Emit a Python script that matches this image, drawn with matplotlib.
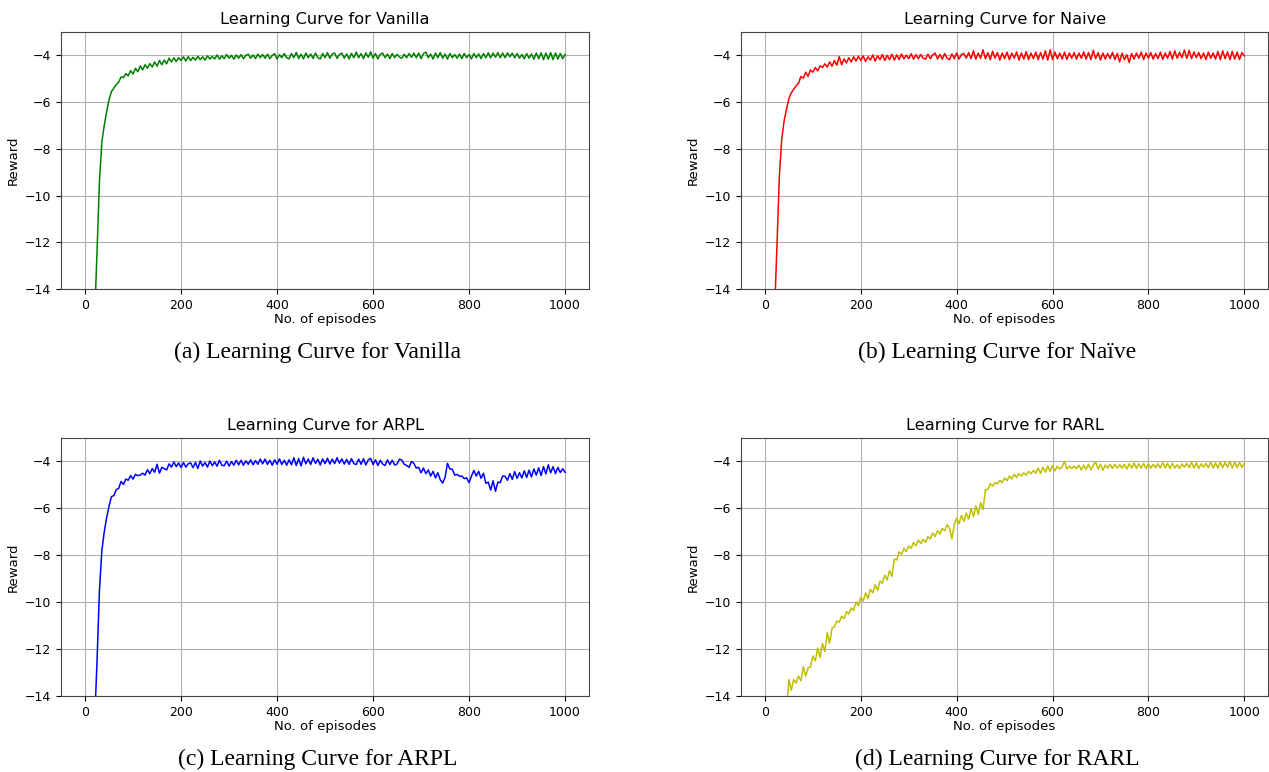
import numpy as np
import matplotlib
matplotlib.use("Agg")
import matplotlib.pyplot as plt

# episodes (sampled every 5 episodes)
episodes = np.arange(20, 1001, 5)
episodes_rarl = np.arange(45, 1001, 5)

vanilla = [
    -15.2, -12.4, -9.4, -7.7, -7.0, -6.4, -5.9, -5.55, -5.4, -5.25,
    -5.15, -4.92, -4.95, -4.78, -4.88, -4.65, -4.8, -4.55, -4.7, -4.45,
    -4.62, -4.4, -4.55, -4.35, -4.5, -4.28, -4.46, -4.22, -4.4, -4.2,
    -4.36, -4.12, -4.28, -4.1, -4.26, -4.1, -4.22, -4.06, -4.24, -4.05,
    -4.22, -4.08, -4.2, -4.04, -4.18, -4.06, -4.2, -4.02, -4.16, -4.05,
    -4.15, -3.98, -4.16, -4.02, -4.14, -3.96, -4.12, -4.0, -4.16, -3.98,
    -4.12, -3.97, -4.14, -4.0, -3.95, -4.12, -3.98, -4.14, -3.94, -4.1,
    -3.96, -4.12, -3.95, -4.14, -4.0, -3.93, -4.15, -3.97, -4.1, -3.92,
    -4.1, -4.15, -3.92, -4.1, -3.87, -4.13, -3.95, -4.15, -3.9, -4.1,
    -3.94, -4.13, -3.9, -4.1, -4.15, -3.92, -4.1, -3.88, -4.12, -3.94,
    -3.9, -4.13, -3.96, -3.9, -4.12, -3.94, -4.15, -3.91, -4.1, -3.86,
    -4.1, -3.92, -4.14, -3.89, -4.08, -3.85, -4.12, -3.92, -4.15, -3.95,
    -3.9, -4.1, -3.94, -4.14, -3.92, -4.1, -3.95, -4.08, -4.12, -3.95,
    -4.1, -3.92, -4.08, -3.9, -4.1, -3.9, -4.14, -3.92, -3.86, -4.1,
    -3.94, -4.16, -3.9, -4.1, -3.88, -4.12, -3.94, -4.16, -3.92, -4.1,
    -3.96, -4.12, -3.94, -4.14, -3.92, -4.1, -3.96, -4.15, -3.92, -4.1,
    -3.94, -4.14, -3.92, -4.1, -3.89, -4.11, -3.9, -4.08, -3.88, -4.1,
    -3.9, -4.1, -3.89, -4.06, -3.9, -4.1, -3.92, -4.12, -3.96, -4.14,
    -3.92, -4.12, -3.94, -4.16, -3.9, -4.14, -3.89, -4.18, -3.9, -4.16,
    -3.88, -4.18, -3.9, -4.16, -3.92, -4.14, -3.96,
]

naive = [
    -15.0, -12.2, -9.2, -7.6, -6.8, -6.3, -5.85, -5.6, -5.45, -5.3,
    -5.2, -4.9, -4.98, -4.72, -4.9, -4.62, -4.72, -4.52, -4.66, -4.45,
    -4.52, -4.36, -4.5, -4.28, -4.46, -4.22, -4.42, -4.05, -4.4, -4.15,
    -4.32, -4.1, -4.28, -4.06, -4.24, -4.04, -4.22, -4.02, -4.26, -4.06,
    -4.2, -3.98, -4.24, -4.02, -4.18, -3.96, -4.22, -4.0, -4.18, -3.95,
    -4.2, -3.98, -4.18, -3.94, -4.15, -3.99, -4.14, -3.93, -4.16, -3.97,
    -4.14, -3.96, -4.12, -4.16, -3.95, -4.14, -3.98, -3.9, -4.15, -3.96,
    -4.16, -3.92, -4.12, -4.18, -3.94, -4.14, -3.9, -4.16, -3.96, -3.92,
    -4.12, -3.88, -4.14, -3.8, -4.16, -3.9, -4.12, -3.76, -4.14, -3.88,
    -4.18, -3.82, -4.12, -3.88, -4.2, -3.9, -4.14, -3.86, -4.18, -3.9,
    -4.12, -3.85, -4.2, -3.9, -4.16, -3.84, -4.18, -3.9, -4.14, -3.86,
    -4.18, -3.88, -4.16, -3.8, -4.2, -3.76, -4.18, -3.86, -4.14, -3.9,
    -4.16, -3.86, -4.18, -3.9, -4.12, -3.88, -4.16, -3.9, -4.12, -3.85,
    -4.16, -3.88, -4.18, -3.78, -4.14, -3.88, -4.2, -3.9, -4.16, -3.92,
    -4.14, -3.87, -4.18, -3.92, -4.28, -3.9, -4.18, -3.97, -4.3, -3.92,
    -4.16, -3.9, -4.12, -3.86, -4.18, -3.9, -4.12, -3.88, -4.16, -3.92,
    -4.14, -3.86, -4.18, -3.9, -4.12, -3.83, -4.16, -3.8, -4.12, -3.87,
    -4.1, -3.77, -4.12, -3.78, -4.14, -3.85, -4.1, -3.88, -4.14, -3.9,
    -4.18, -3.86, -4.12, -3.9, -4.16, -3.83, -4.18, -3.8, -4.14, -3.85,
    -4.18, -3.83, -4.16, -3.86, -4.18, -3.88, -4.02,
]

arpl = [
    -15.1, -12.5, -9.5, -7.8, -7.0, -6.4, -5.9, -5.5, -5.45, -5.2,
    -5.15, -4.85, -4.98, -4.75, -4.8, -4.6, -4.75, -4.55, -4.6, -4.58,
    -4.5, -4.58, -4.35, -4.52, -4.3, -4.46, -4.12, -4.5, -4.25, -4.3,
    -4.36, -4.1, -4.24, -4.02, -4.22, -4.06, -4.26, -4.04, -4.24, -4.1,
    -4.06, -4.26, -4.04, -4.3, -3.98, -4.2, -4.04, -4.24, -3.98, -4.18,
    -4.02, -4.2, -3.95, -4.16, -4.18, -3.98, -4.2, -4.0, -4.16, -3.95,
    -4.14, -3.95, -4.16, -3.97, -4.12, -3.93, -4.14, -3.96, -4.12, -3.9,
    -4.1, -3.9, -4.12, -3.95, -4.16, -3.93, -4.12, -3.89, -4.13, -3.95,
    -4.16, -3.93, -4.14, -3.84, -4.17, -3.88, -4.19, -3.82, -4.1, -3.89,
    -4.13, -3.84, -4.08, -3.91, -4.15, -3.89, -4.09, -3.86, -4.11, -3.9,
    -4.09, -3.84, -4.07, -3.89, -4.11, -3.91, -4.12, -3.88, -4.09, -4.13,
    -3.9, -4.12, -3.88, -4.15, -3.93, -3.87, -4.13, -3.93, -4.17, -3.95,
    -4.11, -4.17, -3.93, -4.13, -3.95, -4.15, -4.11, -3.9, -3.94, -4.12,
    -4.17, -4.25, -4.0, -4.08, -4.28, -4.25, -4.48, -4.28, -4.52, -4.36,
    -4.62, -4.42, -4.7, -4.48, -4.78, -4.92, -4.68, -4.08, -4.32, -4.33,
    -4.58, -4.55, -4.63, -4.62, -4.73, -4.7, -4.9, -4.62, -4.38, -4.62,
    -4.42, -4.72, -4.5, -4.93, -4.88, -5.22, -4.82, -5.27, -4.88, -4.9,
    -4.62, -4.63, -4.8, -4.52, -4.76, -4.43, -4.72, -4.48, -4.7, -4.4,
    -4.68, -4.37, -4.66, -4.32, -4.58, -4.27, -4.6, -4.22, -4.53, -4.14,
    -4.48, -4.22, -4.52, -4.25, -4.47, -4.31, -4.46,
]

rarl = [
    -14.6, -13.3, -13.75, -13.3, -13.45, -13.15, -13.35, -12.75, -13.15, -12.8,
    -12.75, -12.3, -12.5, -11.95, -12.35, -11.75, -12.1, -11.3, -11.75, -11.1,
    -11.05, -10.8, -10.85, -10.6, -10.7, -10.4, -10.5, -10.25, -10.35, -10.0,
    -10.15, -9.8, -9.95, -9.6, -9.85, -9.45, -9.6, -9.25, -9.5, -9.1,
    -9.2, -8.85, -9.05, -8.65, -8.9, -8.15, -8.2, -7.85, -7.95, -7.7,
    -7.85, -7.6, -7.7, -7.45, -7.6, -7.35, -7.5, -7.32, -7.45, -7.2,
    -7.3, -7.05, -7.2, -6.95, -7.1, -6.85, -6.95, -6.7, -6.85, -7.3,
    -6.7, -6.42, -6.65, -6.3, -6.55, -6.2, -6.45, -6.0, -6.35, -5.9,
    -6.25, -5.75, -6.05, -5.2, -5.2, -4.95, -5.05, -4.9, -4.95, -4.8,
    -4.9, -4.7, -4.82, -4.62, -4.75, -4.55, -4.68, -4.52, -4.62, -4.48,
    -4.58, -4.42, -4.52, -4.38, -4.5, -4.28, -4.5, -4.25, -4.45, -4.2,
    -4.42, -4.18, -4.4, -4.2, -4.32, -4.22, -4.0, -4.32, -4.2, -4.3,
    -4.2, -4.3, -4.16, -4.36, -4.15, -4.34, -4.12, -4.35, -4.16, -4.02,
    -4.32, -4.12, -4.38, -4.15, -4.28, -4.12, -4.3, -4.12, -4.28, -4.14,
    -4.28, -4.12, -4.32, -4.1, -4.28, -4.06, -4.3, -4.1, -4.28, -4.08,
    -4.3, -4.1, -4.28, -4.12, -4.26, -4.1, -4.28, -4.04, -4.28, -4.08,
    -4.3, -4.08, -4.28, -4.14, -4.3, -4.1, -4.24, -4.08, -4.26, -4.02,
    -4.28, -4.06, -4.3, -4.1, -4.24, -4.08, -4.26, -4.02, -4.28, -4.06,
    -4.28, -4.02, -4.26, -4.04, -4.24, -4.0, -4.28, -4.02, -4.26, -4.04,
    -4.25, -4.08,
]

titles = ["Learning Curve for Vanilla", "Learning Curve for Naive",
          "Learning Curve for ARPL", "Learning Curve for RARL"]
captions = ["(a) Learning Curve for Vanilla", "(b) Learning Curve for Naïve",
            "(c) Learning Curve for ARPL", "(d) Learning Curve for RARL"]
colors = ["g", "r", "b", "y"]

fig = plt.figure(figsize=(12.69, 7.72), dpi=100)

# axes rectangles in figure fractions
rects = [
    [0.0481, 0.6256, 0.4161, 0.3329],
    [0.5839, 0.6256, 0.4155, 0.3329],
    [0.0481, 0.0984, 0.4161, 0.3342],
    [0.5839, 0.0984, 0.4155, 0.3342],
]
caption_pos = [(0.250, 0.543), (0.786, 0.543), (0.250, 0.016), (0.786, 0.016)]

series = [(episodes, vanilla), (episodes, naive), (episodes, arpl), (episodes_rarl, rarl)]

for i, (x, y) in enumerate(series):
    ax = fig.add_axes(rects[i])
    ax.plot(x, y, color=colors[i], linewidth=1.1)
    ax.set_xlim(-50, 1050)
    ax.set_ylim(-14, -3)
    ax.set_xticks([0, 200, 400, 600, 800, 1000])
    ax.set_yticks([-14, -12, -10, -8, -6, -4])
    ax.grid(True, color="#b0b0b0", linewidth=0.8)
    ax.set_axisbelow(True)
    ax.tick_params(labelsize=9)
    ax.set_title(titles[i], fontsize=11.6)
    ax.set_xlabel("No. of episodes", fontsize=9.5, labelpad=1)
    ax.set_ylabel("Reward", fontsize=9.5)
    for s in ax.spines.values():
        s.set_color("#444444")
    fig.text(caption_pos[i][0], caption_pos[i][1], captions[i],
             ha="center", va="center", fontsize=17, family="Liberation Serif")

fig.savefig("out.png", dpi=100)
